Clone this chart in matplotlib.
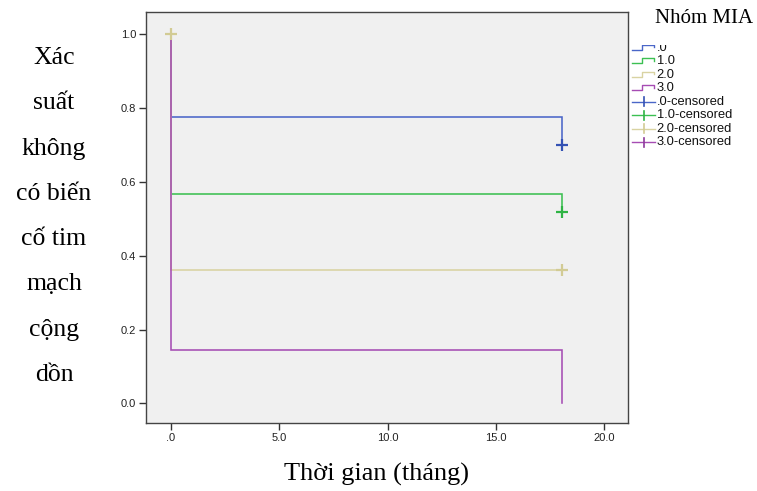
import matplotlib
matplotlib.use("Agg")
import matplotlib.pyplot as plt
from matplotlib.lines import Line2D
from matplotlib.patches import Rectangle

# Kaplan-Meier estimates per MIA group
groups = [".0", "1.0", "2.0", "3.0"]
event_times = [0.0, 18.05]
survival = {
    ".0": [0.776, 0.699],
    "1.0": [0.567, 0.518],
    "2.0": [0.360, 0.360],
    "3.0": [0.144, 0.0],
}
censored_times = {".0": [18.05], "1.0": [18.05], "2.0": [0.0, 18.05], "3.0": []}
censored_surv = {".0": [0.699], "1.0": [0.518], "2.0": [1.0, 0.360], "3.0": []}

x_ticks = [0, 5, 10, 15, 20]
x_tick_labels = [".0", "5.0", "10.0", "15.0", "20.0"]
y_ticks = [0.0, 0.2, 0.4, 0.6, 0.8, 1.0]
y_tick_labels = ["0.0", "0.2", "0.4", "0.6", "0.8", "1.0"]

ylabel_lines = ["Xác", "suất", "không", "có biến", "cố tim", "mạch", "cộng", "dồn"]
xlabel = "Thời gian (tháng)"
legend_title = "Nhóm MIA"

line_colors = {".0": "#4a66c8", "1.0": "#3cc052", "2.0": "#d9d3a2", "3.0": "#a64cb3"}
mark_colors = {".0": "#3452b4", "1.0": "#2fb444", "2.0": "#d2cb94", "3.0": "#8e3a9c"}

W, H = 757, 491
fig = plt.figure(figsize=(W / 100, H / 100), dpi=100)
fig.patch.set_facecolor("white")

ax = fig.add_axes([146 / W, 1 - 423 / H, (628 - 146) / W, (423 - 12) / H])
ax.set_facecolor("#f0f0f0")
ax.set_xlim(-1.15, 21.1)
ax.set_ylim(-0.053, 1.06)

for g in groups:
    xs = [event_times[0]] + event_times
    ys = [1.0] + survival[g]
    ax.plot(xs, ys, drawstyle="steps-post", color=line_colors[g], lw=1.15,
            solid_joinstyle="miter", zorder=2)
for g in groups:
    if censored_times[g]:
        ax.plot(censored_times[g], censored_surv[g], linestyle="none", marker="+",
                markersize=8, mew=1.6, color=mark_colors[g], zorder=3)

ax.set_xticks(x_ticks)
ax.set_xticklabels(x_tick_labels)
ax.set_yticks(y_ticks)
ax.set_yticklabels(y_tick_labels)
ax.tick_params(direction="out", length=5, width=1, color="#333333",
               labelsize=8, labelcolor="#222222", pad=2)
for lab in ax.get_xticklabels() + ax.get_yticklabels():
    lab.set_fontfamily("Liberation Sans")
for s in ax.spines.values():
    s.set_color("#444444")
    s.set_linewidth(1.0)

serif = "Liberation Serif"
for i, line in enumerate(ylabel_lines):
    fig.text(54 / W, 1 - (64 + 45.3 * i) / H, line, ha="center", va="baseline",
             fontsize=18.5, family=serif)
fig.text(377 / W, 1 - 481 / H, xlabel, ha="center", va="baseline",
         fontsize=19, family=serif)

# legend drawn in pixel space
lg = fig.add_axes([0, 0, 1, 1], facecolor="none")
lg.set_xlim(0, W)
lg.set_ylim(H, 0)
lg.axis("off")
row0, step = 47.5, 13.55
entries = [(g, False) for g in groups] + [(g, True) for g in groups]
for k, (g, cens) in enumerate(entries):
    y = row0 + step * k
    c = line_colors[g]
    if cens:
        lg.add_line(Line2D([632, 655], [y, y], color=c, lw=1.0))
        lg.add_line(Line2D([643.5, 643.5], [y - 4.5, y + 4.5], color=mark_colors[g], lw=1.2))
        label = g + "-censored"
    else:
        lg.add_line(Line2D([632, 642, 642, 654, 654], [y + 2, y + 2, y - 3, y - 3, y - 0.5],
                           color=c, lw=1.0))
        label = g
    lg.text(656.5, y, label, ha="left", va="center", fontsize=9.3,
            family="Liberation Sans", color="#111111")
lg.add_patch(Rectangle((629.5, 0), W - 629.5, 44.5, facecolor="white", edgecolor="none", zorder=5))
lg.text(704, 23, legend_title, ha="center", va="baseline", fontsize=15,
        family=serif, zorder=6)

fig.savefig("out.png", dpi=100)
